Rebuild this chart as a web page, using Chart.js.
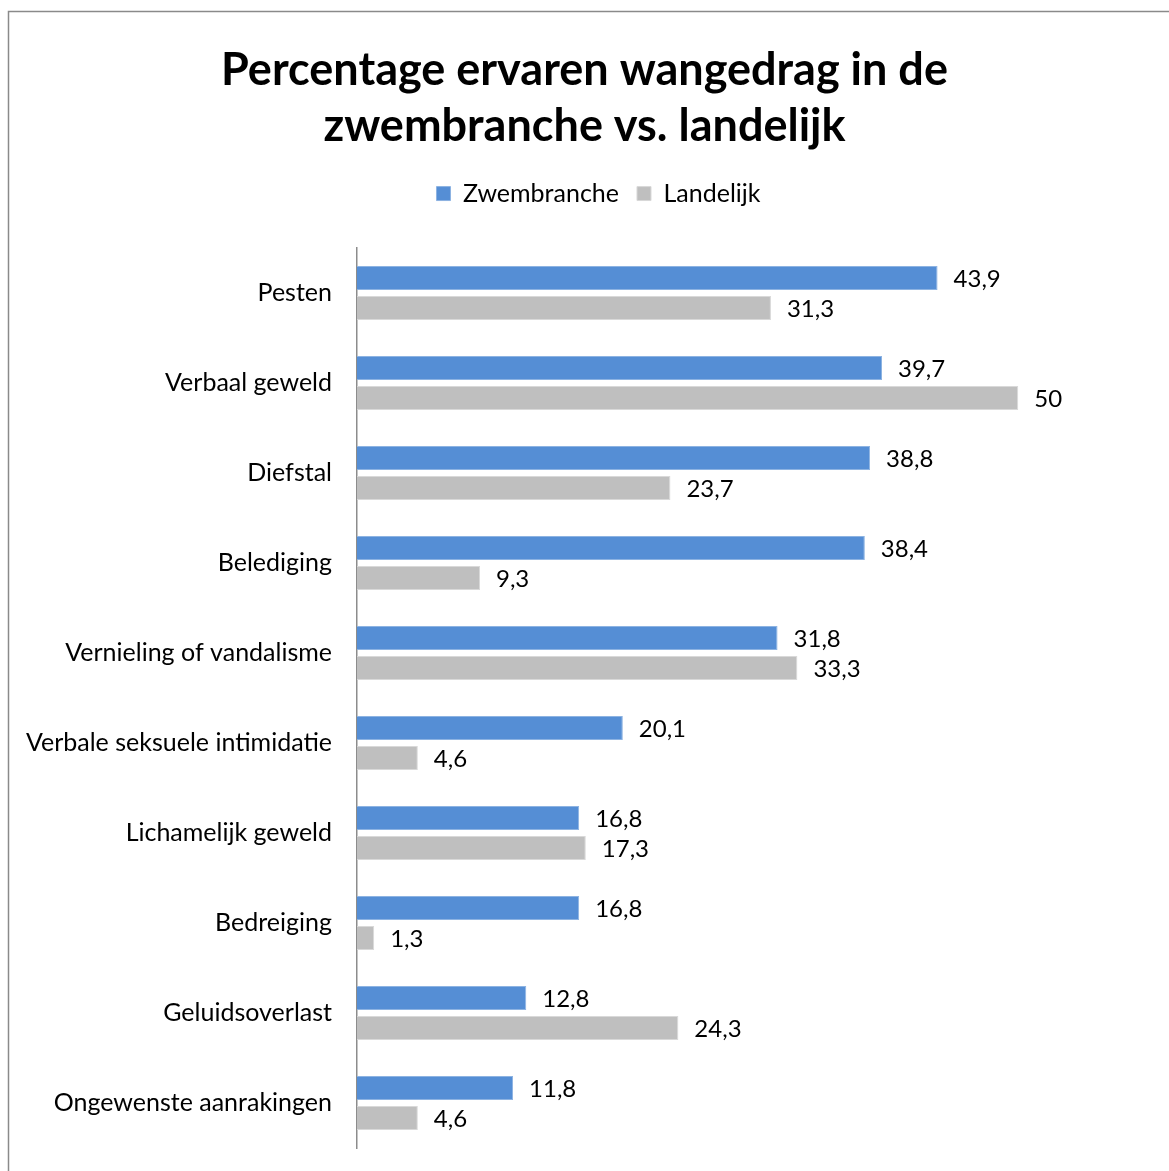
<!DOCTYPE html>
<html>
<head>
<meta charset="utf-8">
<script src="https://cdn.jsdelivr.net/npm/chart.js@4.4.0/dist/chart.umd.min.js"></script>
<style>
  html, body { margin: 0; padding: 0; background: #fff; }
  #wrap { width: 1169px; height: 1171px; }
</style>
</head>
<body>
<div id="wrap"><canvas id="myChart" width="1169" height="1171"></canvas></div>
<script>
// categories, top to bottom
var categories = ['Pesten', 'Verbaal geweld', 'Diefstal', 'Belediging', 'Vernieling of vandalisme',
  'Verbale seksuele intimidatie', 'Lichamelijk geweld', 'Bedreiging', 'Geluidsoverlast', 'Ongewenste aanrakingen'];
var zwembranche = [43.9, 39.7, 38.8, 38.4, 31.8, 20.1, 16.8, 16.8, 12.8, 11.8];
var landelijk = [31.3, 50, 23.7, 9.3, 33.3, 4.6, 17.3, 1.3, 24.3, 4.6];
var seriesNames = ['Zwembranche', 'Landelijk'];

var FONT = 'Lato';
// the plot runs on to the right edge, the value 50 sits at about 81% of it
var xMax = 61.4;

// outer frame of the chart (only top and left edges are in view)
var framePlugin = {
  id: 'frame',
  beforeDraw: function(chart) {
    var ctx = chart.ctx;
    ctx.save();
    ctx.strokeStyle = '#8a8a8a';
    ctx.lineWidth = 1.5;
    ctx.strokeRect(8.5, 11.5, 3000, 3000);
    ctx.restore();
  }
};

// space between legend and plot, legend nudged a bit right like the original
var legendGap = {
  id: 'legendGap',
  beforeInit: function(chart) {
    var orig = chart.legend.fit;
    chart.legend.fit = function() {
      orig.bind(chart.legend)();
      this.height += 32;
    };
  },
  afterLayout: function(chart) {
    chart.legend.left += 14;
    chart.legend.right += 14;
  }
};

// value labels at the end of each bar
var valueLabels = {
  id: 'valueLabels',
  afterDatasetsDraw: function(chart) {
    var ctx = chart.ctx;
    ctx.save();
    ctx.font = '24px ' + FONT;
    ctx.fillStyle = '#000';
    ctx.textAlign = 'left';
    ctx.textBaseline = 'middle';
    chart.data.datasets.forEach(function(ds, i) {
      var meta = chart.getDatasetMeta(i);
      meta.data.forEach(function(bar, j) {
        var txt = String(ds.data[j]).replace('.', ',');
        ctx.fillText(txt, bar.x + 16, bar.y + 1);
      });
    });
    ctx.restore();
  }
};

var ctx = document.getElementById('myChart').getContext('2d');
var myChart = new Chart(ctx, {
  type: 'bar',
  data: {
    labels: categories,
    datasets: [{
      label: seriesNames[0],
      data: zwembranche,
      backgroundColor: '#558ed5',
      borderColor: '#8db3e2',
      borderWidth: 1,
      categoryPercentage: 0.667,
      barPercentage: 0.8
    }, {
      label: seriesNames[1],
      data: landelijk,
      backgroundColor: '#bfbfbf',
      borderColor: '#d9d9d9',
      borderWidth: 1,
      categoryPercentage: 0.667,
      barPercentage: 0.8
    }]
  },
  options: {
    indexAxis: 'y',
    responsive: false,
    animation: false,
    layout: { padding: { top: 20, left: 0, right: 0, bottom: 23 } },
    scales: {
      x: { display: false, min: 0, max: xMax },
      y: {
        grid: { display: false, drawTicks: true, tickLength: 25 },
        border: { display: true, color: '#8c8c8c', width: 1.5 },
        ticks: { color: '#000', font: { family: FONT, size: 25 }, padding: 0 },
        afterFit: function(scale) { scale.width = 357; }
      }
    },
    plugins: {
      title: {
        display: true,
        text: ['Percentage ervaren wangedrag in de', 'zwembranche vs. landelijk'],
        color: '#000',
        font: { family: FONT, size: 45, weight: 'bold', lineHeight: 1.245 },
        padding: { top: 22, bottom: 9 }
      },
      legend: {
        position: 'top',
        labels: {
          color: '#000',
          font: { family: FONT, size: 25 },
          boxWidth: 14,
          boxHeight: 14,
          padding: 18
        }
      },
      tooltip: { enabled: false }
    }
  },
  plugins: [framePlugin, legendGap, valueLabels]
});
</script>
</body>
</html>
